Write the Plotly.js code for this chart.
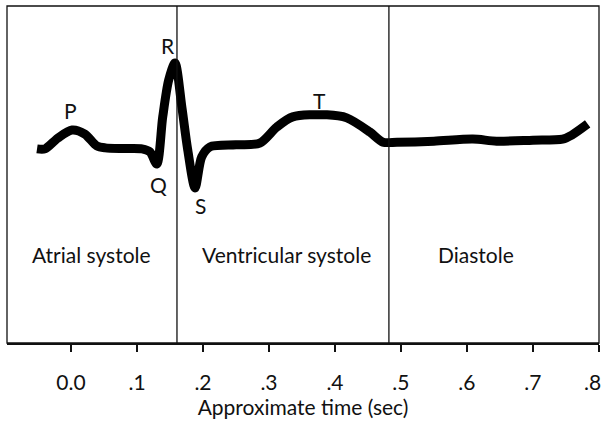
<!DOCTYPE html>
<html>
<head>
<meta charset="utf-8">
<script src="https://cdn.plot.ly/plotly-3.0.1.min.js"></script>
<style>html,body{margin:0;padding:0;background:#fff;}#chart{width:603px;height:422px;}</style>
</head>
<body>
<div id="chart"></div>
<script>
// ECG trace (time in sec, arbitrary amplitude)
const timeSec = [-0.0515,-0.0394,-0.020,0.0015,0.021,0.039,0.052,0.080,0.1076,0.1197,0.130,0.139,0.148,0.1576,0.168,0.177,0.188,0.198,0.2106,0.250,0.286,0.312,0.336,0.388,0.418,0.453,0.473,0.494,0.550,0.609,0.645,0.700,0.745,0.759,0.783];
const amplitude = [57.6,57.6,60.8,63.2,62.0,58.5,57.9,57.7,57.6,56.7,53.1,67.1,78.0,83.1,70.0,57.2,46.0,55.2,58.2,58.8,59.3,64.1,67.1,67.7,66.8,62.6,59.6,59.6,59.9,60.5,59.9,60.2,60.5,61.7,65.0];

const waveLabels = ["P","Q","R","S","T"];
const waveLabelX = [-0.0015,0.132,0.147,0.197,0.377];
const waveLabelY = [69.1,46.9,88.4,40.7,72.1];

const phaseNames = ["Atrial systole","Ventricular systole","Diastole"];
const phaseCenters = [0.0311,0.3265,0.6136];
const phaseBoundaries = [0.1606,0.4818];

const tickValues = [0,0.1,0.2,0.3,0.4,0.5,0.6,0.7,0.8];
const tickLabels = ["0.0",".1",".2",".3",".4",".5",".6",".7",".8"];

const FONT = "Lato, 'Open Sans', sans-serif";
const FS = 21;
const last = tickLabels.length - 1;
// the last tick label sits at the right edge; drawn as an annotation nudged left so it stays inside the page
const axisTickText = tickLabels.map((t,i)=> i===last ? '' : t);

const annotations = [];
waveLabels.forEach((t,i)=>annotations.push({x:waveLabelX[i],y:waveLabelY[i],xref:'x',yref:'y',text:t,showarrow:false,font:{family:FONT,size:FS,color:'#111'}}));
phaseNames.forEach((t,i)=>annotations.push({x:phaseCenters[i],y:26.4,xref:'x',yref:'y',text:t,showarrow:false,font:{family:FONT,size:FS,color:'#111'}}));
annotations.push({x:tickValues[last],y:-0.1128,xref:'x',yref:'paper',yanchor:'middle',xanchor:'center',xshift:-6,text:tickLabels[last],showarrow:false,font:{family:FONT,size:FS,color:'#111'}});

const shapes = phaseBoundaries.map(b=>({type:'line',xref:'x',yref:'paper',x0:b,x1:b,y0:0,y1:1,line:{color:'#111',width:1.3}}));
shapes.push({type:'rect',xref:'paper',yref:'paper',x0:0,x1:1,y0:0,y1:1,line:{color:'#111',width:1.3}});

const trace = {x:timeSec,y:amplitude,mode:'lines',line:{color:'#000',width:9,shape:'spline',smoothing:0.8},hoverinfo:'skip'};

const layout = {
  width:603,height:422,
  margin:{l:7,r:4,t:6,b:79},
  paper_bgcolor:'#fff',plot_bgcolor:'#fff',
  showlegend:false,
  xaxis:{range:[-0.097,0.8002],tickvals:tickValues,ticktext:axisTickText,ticks:'outside',ticklen:7,tickwidth:2,tickcolor:'#111',
    showline:true,linecolor:'#111',linewidth:2,showgrid:false,zeroline:false,ticklabelstandoff:13,ticklabeloverflow:'allow',
    tickfont:{family:FONT,size:FS,color:'#111'},
    title:{text:'Approximate time (sec)',font:{family:FONT,size:FS,color:'#111'},standoff:0}},
  yaxis:{range:[0,100],visible:false,showgrid:false,zeroline:false},
  annotations:annotations,
  shapes:shapes
};
Plotly.newPlot('chart',[trace],layout,{displayModeBar:false,staticPlot:true});
</script>
</body>
</html>
